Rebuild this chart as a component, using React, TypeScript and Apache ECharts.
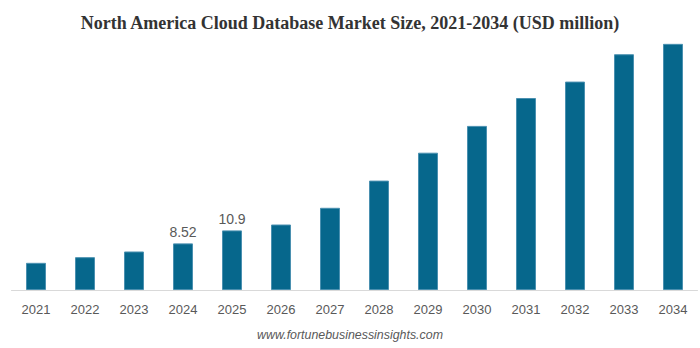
import React, { useEffect, useRef } from "react";
import * as echarts from "echarts";

const years = ["2021", "2022", "2023", "2024", "2025", "2026", "2027", "2028", "2029", "2030", "2031", "2032", "2033", "2034"];
const values = [4.97, 6.0, 7.04, 8.52, 10.9, 11.97, 15.03, 20.0, 25.1, 30.0, 35.1, 38.1, 43.1, 45.0];
const labeledYears = ["2024", "2025"];

export default function App() {
  const ref = useRef<HTMLDivElement>(null);
  useEffect(() => {
    if (!ref.current) return;
    const chart = echarts.init(ref.current, null, { renderer: "svg" });
    chart.setOption({
      animation: false,
      backgroundColor: "#ffffff",
      title: {
        text: "North America Cloud Database Market Size, 2021-2034 (USD million)",
        left: "center",
        top: 9,
        textStyle: {
          fontFamily: "Liberation Serif",
          fontWeight: "bold",
          fontSize: 18,
          color: "#333333",
        },
      },
      graphic: [
        {
          type: "text",
          left: "center",
          top: 329,
          style: {
            text: "www.fortunebusinessinsights.com",
            fontFamily: "Liberation Sans",
            fontStyle: "italic",
            fontSize: 12.4,
            fill: "#595959",
          },
        },
      ],
      grid: { left: 11.5, right: 2.5, top: 16.5, bottom: 58, containLabel: false },
      xAxis: {
        type: "category",
        data: years,
        axisLine: { show: true, lineStyle: { color: "#d9d9d9", width: 1 } },
        axisTick: { show: false },
        axisLabel: {
          color: "#595959",
          fontFamily: "Liberation Sans",
          fontSize: 13,
          margin: 13,
        },
      },
      yAxis: {
        type: "value",
        min: 0,
        max: 50,
        show: false,
        splitLine: { show: false },
      },
      series: [
        {
          type: "bar",
          data: values.map((v, i) => ({
            value: v,
            label: {
              show: labeledYears.includes(years[i]),
              position: "top",
              distance: 4,
              color: "#595959",
              fontFamily: "Liberation Sans",
              fontSize: 14,
            },
          })),
          barWidth: 20,
          itemStyle: { color: "#06678c", borderColor: "#4a90b0", borderWidth: 1 },
        },
      ],
    });
    return () => chart.dispose();
  }, []);
  return (
    <div
      ref={ref}
      style={{ position: "fixed", left: 0, top: 0, width: 700, height: 348 }}
    />
  );
}
